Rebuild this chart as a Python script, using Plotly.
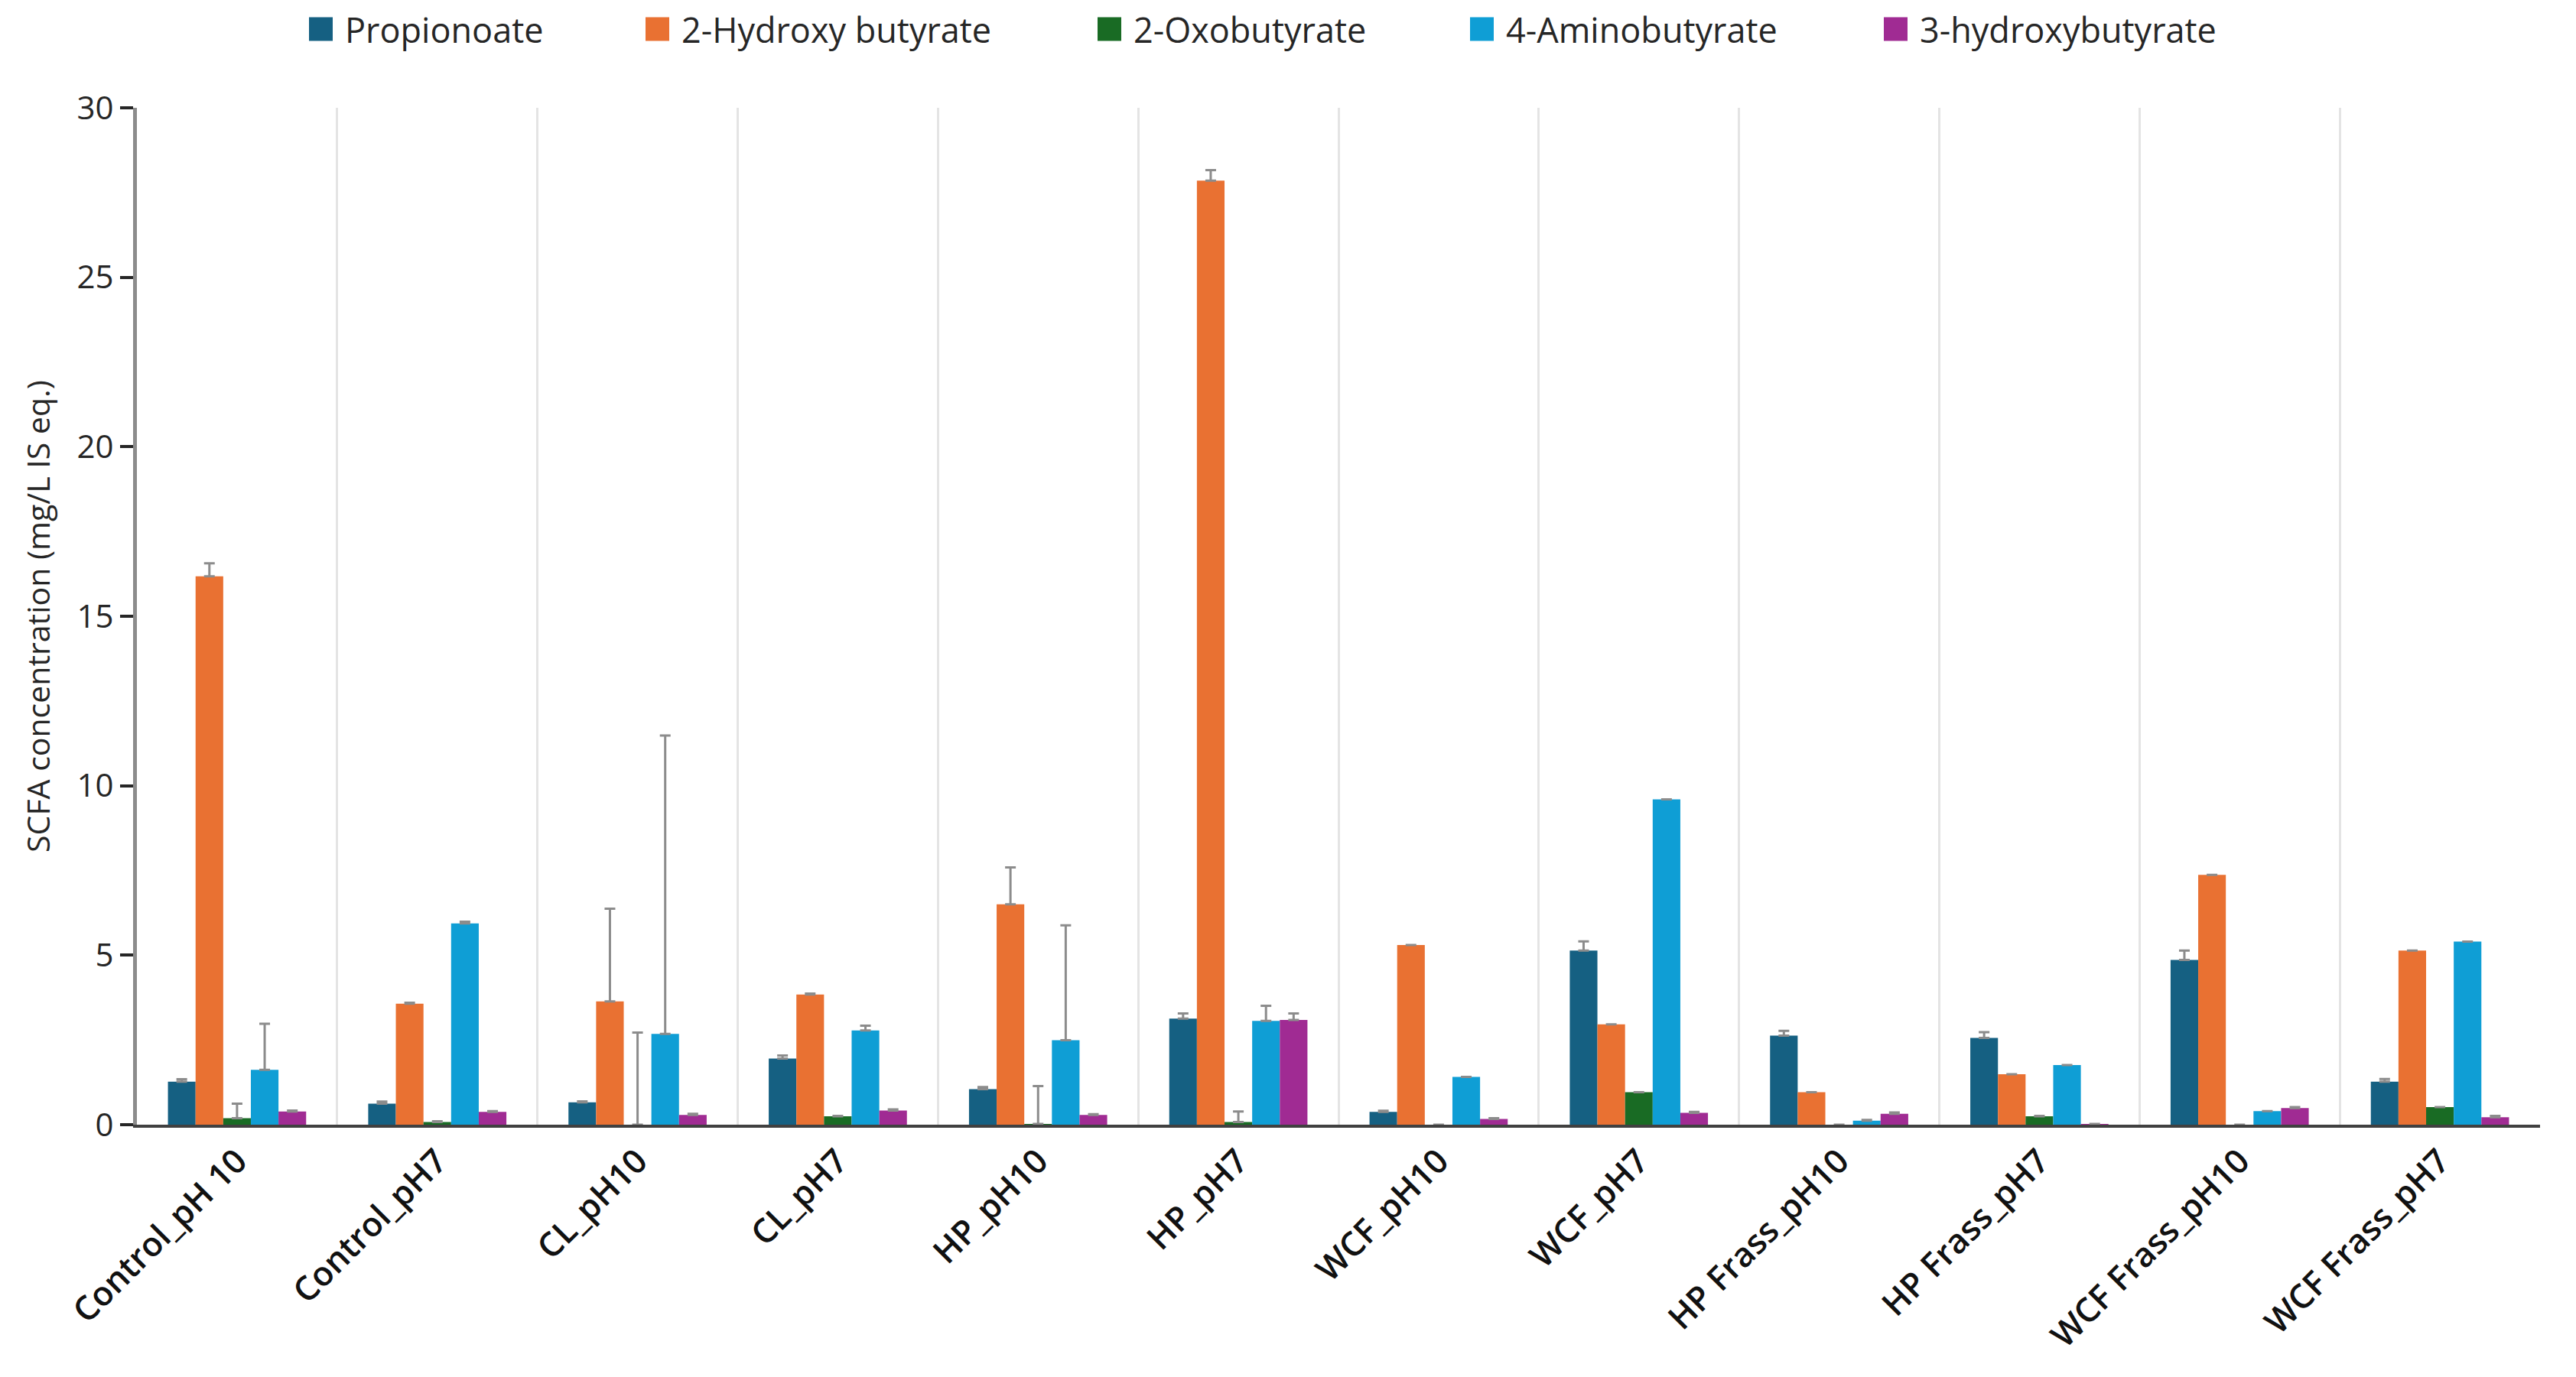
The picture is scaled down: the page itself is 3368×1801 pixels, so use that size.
import plotly.graph_objects as go

# ---------------- data ----------------
categories = ["Control_pH 10", "Control_pH7", "CL_pH10", "CL_pH7", "HP_pH10", "HP_pH7",
              "WCF_pH10", "WCF_pH7", "HP Frass_pH10", "HP Frass_pH7",
              "WCF Frass_pH10", "WCF Frass_pH7"]

series_names = ["Propionoate", "2-Hydroxy butyrate", "2-Oxobutyrate",
                "4-Aminobutyrate", "3-hydroxybutyrate"]

propionoate = [1.27, 0.62, 0.66, 1.95, 1.05, 3.13, 0.38, 5.14, 2.63, 2.56, 4.86, 1.27]
propionoate_err = [0.07, 0.06, 0.03, 0.09, 0.06, 0.15, 0.03, 0.27, 0.14, 0.17, 0.28, 0.08]

hydroxy_2 = [16.18, 3.57, 3.64, 3.84, 6.50, 27.85, 5.30, 2.96, 0.96, 1.49, 7.37, 5.14]
hydroxy_2_err = [0.38, 0.03, 2.73, 0.03, 1.09, 0.31, 0.0, 0.0, 0.0, 0.0, 0.0, 0.0]

oxobutyrate = [0.19, 0.08, 0.0, 0.25, 0.02, 0.08, 0.0, 0.96, 0.0, 0.25, 0.0, 0.52]
oxobutyrate_err = [0.43, 0.02, 2.72, 0.01, 1.12, 0.31, 0.0, 0.0, 0.0, 0.01, 0.0, 0.0]

aminobutyrate = [1.62, 5.94, 2.68, 2.78, 2.49, 3.06, 1.41, 9.60, 0.12, 1.76, 0.40, 5.40]
aminobutyrate_err = [1.36, 0.05, 8.80, 0.14, 3.39, 0.45, 0.0, 0.0, 0.02, 0.0, 0.0, 0.0]

hydroxy_3 = [0.39, 0.38, 0.29, 0.42, 0.29, 3.09, 0.17, 0.35, 0.32, 0.02, 0.49, 0.22]
hydroxy_3_err = [0.03, 0.02, 0.03, 0.03, 0.02, 0.19, 0.02, 0.03, 0.04, 0.0, 0.03, 0.04]

y_ticks = [0, 5, 10, 15, 20, 25, 30]
y_title = "SCFA concentration (mg/L IS eq.)"

# ---------------- style ----------------
colors = ["#156082", "#E97132", "#196B24", "#0F9ED5", "#A02B93"]
FONT = "Open Sans"
TEXT = "#262626"
PAGE_PAD = 8                      # default body margin of the html page
W, H = 3368 - 2 * PAGE_PAD, 1801 - 2 * PAGE_PAD
ML, MR, MT, MB = 171, 39, 133, 322

values = [propionoate, hydroxy_2, oxobutyrate, aminobutyrate, hydroxy_3]
errors = [propionoate_err, hydroxy_2_err, oxobutyrate_err, aminobutyrate_err, hydroxy_3_err]

fig = go.Figure()
for name, vals, errs, col in zip(series_names, values, errors, colors):
    fig.add_trace(go.Bar(
        name=name, x=categories, y=vals,
        marker=dict(color=col, line=dict(width=0)),
        error_y=dict(type="data", symmetric=False, array=errs,
                     arrayminus=[0] * len(errs), color="#8c8c8c",
                     thickness=3, width=7),
        showlegend=False,
    ))

fig.update_layout(
    width=W, height=H,
    barmode="group", bargap=0.31, bargroupgap=0,
    margin=dict(l=ML, r=MR, t=MT, b=MB, autoexpand=False),
    plot_bgcolor="white", paper_bgcolor="white",
    font=dict(family=FONT, color=TEXT),
    showlegend=False,
)

fig.update_xaxes(
    type="category", tickson="boundaries",
    showgrid=True, gridcolor="#e4e4e4", gridwidth=3,
    showline=True, linecolor="#404040", linewidth=4,
    ticks="", tickangle=-45,
    tickfont=dict(family=FONT, size=44, color="#111111", weight=600),
)

fig.update_yaxes(
    range=[0, 30], tickvals=y_ticks,
    showgrid=False, zeroline=False,
    showline=True, linecolor="#8c8c8c", linewidth=5,
    ticks="outside", ticklen=17, tickwidth=4, tickcolor="#262626",
    tickfont=dict(family=FONT, size=42, color=TEXT),
    title=dict(text=y_title, font=dict(family=FONT, size=41, color=TEXT), standoff=24),
)

# ---------------- legend (drawn manually to match the Excel-style swatches) ----------------
plot_w = W - ML - MR
plot_h = H - MT - MB
legend_x_px = [396, 836, 1427, 1914, 2455]   # figure pixels
legend_y_px = 30
sw = 31

def px_to_paper_x(px):
    return (px - ML) / plot_w

def px_to_paper_y(py):
    return (H - MB - py) / plot_h

for name, col, x0 in zip(series_names, colors, legend_x_px):
    fig.add_shape(type="rect", xref="paper", yref="paper",
                  x0=px_to_paper_x(x0), x1=px_to_paper_x(x0 + sw),
                  y0=px_to_paper_y(legend_y_px + sw / 2), y1=px_to_paper_y(legend_y_px - sw / 2),
                  fillcolor=col, line=dict(width=0))
    fig.add_annotation(xref="paper", yref="paper",
                       x=px_to_paper_x(x0 + sw + 14), y=px_to_paper_y(legend_y_px),
                       text=name, showarrow=False, xanchor="left", yanchor="middle",
                       font=dict(family=FONT, size=45, color=TEXT))

fig.write_html("out.html")
